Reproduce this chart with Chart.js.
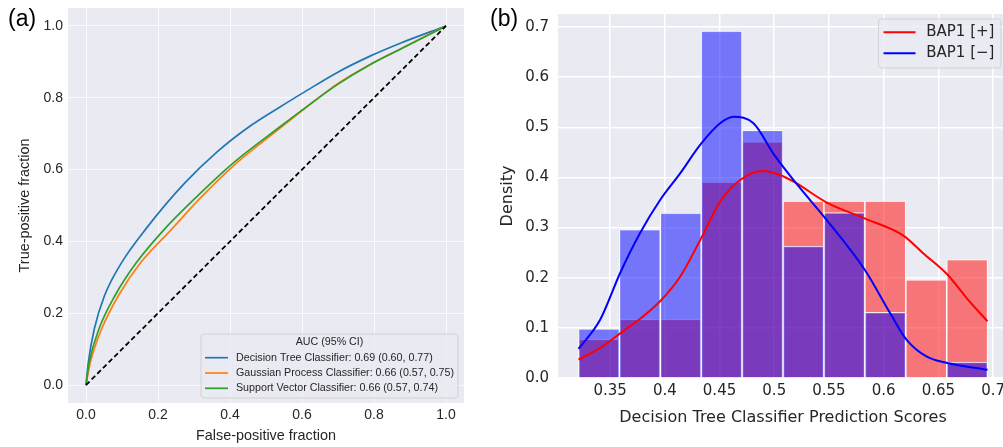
<!DOCTYPE html>
<html>
<head>
<meta charset="utf-8">
<script src="https://cdn.jsdelivr.net/npm/chart.js@4.4.0/dist/chart.umd.min.js"></script>
<style>
  html, body { margin: 0; padding: 0; background: #fff; overflow: hidden; width: 1003px; height: 447px; }
  canvas { position: absolute; top: 0; }
  #rocChart { left: 0; width: 470px; height: 447px; }
  #histChart { left: 490px; width: 520px; height: 447px; }
  .tag { position: absolute; top: 7px; font: 23px "Liberation Sans", Arial, sans-serif; line-height: 23px; color: #000; }
</style>
</head>
<body>
<canvas id="rocChart" width="470" height="447"></canvas>
<canvas id="histChart" width="520" height="447"></canvas>
<div class="tag" style="left:8px">(a)</div>
<div class="tag" style="left:490px">(b)</div>
<script>
// (a) ROC curves
const fprTree  = [0, 0.0065, 0.023, 0.051, 0.099, 0.168, 0.272, 0.365, 0.457, 0.540, 0.605, 0.697, 0.789, 0.873, 1.0];
const tprTree  = [0, 0.063, 0.156, 0.248, 0.341, 0.437, 0.560, 0.650, 0.722, 0.775, 0.815, 0.870, 0.916, 0.952, 1.0];
const fprGauss = [0, 0.012, 0.0434, 0.0895, 0.152, 0.237, 0.3186, 0.411, 0.540, 0.605, 0.697, 0.789, 0.873, 1.0];
const tprGauss = [0, 0.063, 0.156, 0.248, 0.341, 0.433, 0.522, 0.612, 0.716, 0.768, 0.838, 0.893, 0.936, 1.0];
const fprSvc   = [0, 0.009, 0.036, 0.080, 0.140, 0.217, 0.3186, 0.411, 0.540, 0.605, 0.697, 0.789, 0.873, 1.0];
const tprSvc   = [0, 0.063, 0.156, 0.248, 0.341, 0.433, 0.535, 0.620, 0.720, 0.769, 0.836, 0.892, 0.935, 1.0];
const chanceX  = [0, 1];
const chanceY  = [0, 1];
const rocLabels = [
    "Decision Tree Classifier: 0.69 (0.60, 0.77)",
    "Gaussian Process Classifier: 0.66 (0.57, 0.75)",
    "Support Vector Classifier: 0.66 (0.57, 0.74)"
];
const rocTicks = [0, 0.2, 0.4, 0.6, 0.8, 1.0];
const rocTickLabels = ["0.0", "0.2", "0.4", "0.6", "0.8", "1.0"];

// (b) histogram + KDE
const binCenters = [0.3398, 0.3772, 0.4146, 0.4519, 0.4893, 0.5267, 0.5641, 0.6015, 0.6389, 0.6763];
const densityPos = [0.077, 0.117, 0.117, 0.391, 0.471, 0.353, 0.353, 0.353, 0.196, 0.236];
const densityNeg = [0.098, 0.296, 0.329, 0.692, 0.494, 0.263, 0.330, 0.131, 0, 0.032];
const kdePosX = [0.3211, 0.3409, 0.3598, 0.3774, 0.3957, 0.414, 0.4323, 0.4506, 0.4688, 0.490, 0.5054, 0.519, 0.548, 0.583, 0.618, 0.636, 0.658, 0.676, 0.6949];
const kdePosY = [0.0365, 0.060, 0.090, 0.118, 0.153, 0.202, 0.275, 0.352, 0.395, 0.413, 0.405, 0.390, 0.350, 0.318, 0.284, 0.249, 0.207, 0.159, 0.113];
const kdeNegX = [0.3211, 0.3409, 0.3591, 0.3774, 0.3957, 0.414, 0.4323, 0.4506, 0.4627, 0.481, 0.5, 0.519, 0.548, 0.583, 0.606, 0.621, 0.639, 0.658, 0.6949];
const kdeNegY = [0.058, 0.116, 0.209, 0.289, 0.355, 0.408, 0.465, 0.508, 0.521, 0.508, 0.445, 0.391, 0.315, 0.215, 0.129, 0.076, 0.043, 0.030, 0.0165];
const groupLabels = ["BAP1 [+]", "BAP1 [\u2212]"];
const scoreTicks = [0.35, 0.4, 0.45, 0.5, 0.55, 0.6, 0.65, 0.7];
const scoreTickLabels = ["0.35", "0.4", "0.45", "0.5", "0.55", "0.6", "0.65", "0.7"];
const densityTicks = [0, 0.1, 0.2, 0.3, 0.4, 0.5, 0.6, 0.7];
const densityTickLabels = ["0.0", "0.1", "0.2", "0.3", "0.4", "0.5", "0.6", "0.7"];

const pts = (xs, ys) => xs.map((x, i) => ({ x: x, y: ys[i] }));
const TXT = "#262626";
const ARIAL = "'Liberation Sans', Arial, sans-serif";
const DEJAVU = "'DejaVu Sans', sans-serif";

const plotBg = {
    id: "plotBg",
    beforeDraw(chart) {
        const { ctx, chartArea: a } = chart;
        ctx.save();
        ctx.fillStyle = "#EAEAF2";
        ctx.fillRect(a.left, a.top, a.right - a.left, a.bottom - a.top);
        ctx.restore();
    }
};

// framed legend drawn inside the plot, like matplotlib's
function boxLegend(cfg) {
    return {
        id: "boxLegend",
        afterDraw(chart) {
            const { ctx, chartArea: a } = chart;
            const items = chart.data.datasets.filter(d => d.inLegend);
            ctx.save();
            ctx.font = cfg.font;
            const textW = Math.max(...items.map(d => ctx.measureText(d.label).width));
            const w = cfg.padL + cfg.lineLen + cfg.gap + textW + cfg.padR;
            const h = cfg.height;
            const x = a.right - cfg.marginR - w;
            const y = cfg.top != null ? a.top + cfg.top : a.bottom - cfg.bottom - h;
            ctx.beginPath();
            ctx.roundRect(x, y, w, h, 3);
            ctx.fillStyle = "rgba(234,234,242,0.8)";
            ctx.fill();
            ctx.strokeStyle = "rgba(204,204,204,0.8)";
            ctx.lineWidth = 1;
            ctx.stroke();
            ctx.fillStyle = TXT;
            ctx.textBaseline = "middle";
            if (cfg.title) {
                ctx.textAlign = "center";
                ctx.fillText(cfg.title, x + w / 2, y + cfg.titleY);
            }
            ctx.textAlign = "left";
            items.forEach((d, i) => {
                const ry = y + cfg.firstRow + i * cfg.rowStep;
                ctx.beginPath();
                ctx.moveTo(x + cfg.padL, ry);
                ctx.lineTo(x + cfg.padL + cfg.lineLen, ry);
                ctx.strokeStyle = d.borderColor;
                ctx.lineWidth = d.borderWidth;
                ctx.stroke();
                ctx.fillStyle = TXT;
                ctx.fillText(d.label, x + cfg.padL + cfg.lineLen + cfg.gap, ry);
            });
            ctx.restore();
        }
    };
}

function setTicks(values) {
    return scale => { scale.ticks = values.map(v => ({ value: v })); };
}
// fixed axis box sizes, no extra room for overhanging labels
function fixX(h) {
    return s => { s.height = h; s.paddingLeft = 0; s.paddingRight = 0; };
}
function fixY(w) {
    return s => { s.width = w; s.paddingTop = 0; s.paddingBottom = 0; };
}

// ---------- (a) ----------
new Chart(document.getElementById("rocChart"), {
    type: "line",
    data: {
        datasets: [
            { label: rocLabels[0], data: pts(fprTree, tprTree), borderColor: "#1f77b4", borderWidth: 1.7, order: 4, inLegend: true },
            { label: rocLabels[1], data: pts(fprGauss, tprGauss), borderColor: "#ff7f0e", borderWidth: 1.7, order: 3, inLegend: true },
            { label: rocLabels[2], data: pts(fprSvc, tprSvc), borderColor: "#2ca02c", borderWidth: 1.7, order: 2, inLegend: true },
            { label: "chance", data: pts(chanceX, chanceY), borderColor: "#000", borderWidth: 1.8, borderDash: [5, 3], order: 1 }
        ]
    },
    options: {
        responsive: false,
        animation: false,
        layout: { padding: { left: 0, top: 8, right: 6, bottom: 0 } },
        elements: { point: { radius: 0 }, line: { cubicInterpolationMode: "monotone", fill: false } },
        plugins: { legend: { display: false }, tooltip: { enabled: false } },
        scales: {
            x: {
                type: "linear", min: -0.05, max: 1.05,
                afterBuildTicks: setTicks(rocTicks),
                afterFit: fixX(44),
                grid: { color: "rgba(255,255,255,0.75)", lineWidth: 1, drawTicks: false },
                border: { display: false },
                ticks: { padding: 3.6, color: TXT, font: { family: ARIAL, size: 14 }, maxRotation: 0, autoSkip: false,
                         callback: (v, i) => rocTickLabels[i] },
                title: { display: true, text: "False-positive fraction", color: TXT,
                         font: { family: ARIAL, size: 14.4 }, padding: { top: 0, bottom: 2.4 } }
            },
            y: {
                type: "linear", min: -0.05, max: 1.05,
                afterBuildTicks: setTicks(rocTicks),
                afterFit: fixY(68),
                grid: { color: "rgba(255,255,255,0.75)", lineWidth: 1, drawTicks: false },
                border: { display: false },
                ticks: { padding: 5, color: TXT, font: { family: ARIAL, size: 14 }, autoSkip: false,
                         callback: (v, i) => rocTickLabels[i] },
                title: { display: true, text: "True-positive fraction", color: TXT,
                         font: { family: ARIAL, size: 14.4 }, padding: { top: 16.4, bottom: 0 } }
            }
        }
    },
    plugins: [plotBg, boxLegend({
        font: "10.7px " + ARIAL, title: "AUC (95% CI)", titleY: 8.3,
        height: 64, marginR: 6, bottom: 5,
        padL: 4, lineLen: 23, gap: 8, padR: 4, firstRow: 23.7, rowStep: 15.3
    })]
});

// ---------- (b) ----------
new Chart(document.getElementById("histChart"), {
    type: "bar",
    data: {
        datasets: [
            { type: "bar", label: groupLabels[0], data: pts(binCenters, densityPos), backgroundColor: "rgba(255,0,0,0.5)",
              borderColor: "rgba(255,255,255,0.85)", borderWidth: 1, grouped: false, barPercentage: 1, categoryPercentage: 1, order: 4 },
            { type: "bar", label: groupLabels[1], data: pts(binCenters, densityNeg), backgroundColor: "rgba(0,0,255,0.5)",
              borderColor: "rgba(255,255,255,0.85)", borderWidth: 1, grouped: false, barPercentage: 1, categoryPercentage: 1, order: 3 },
            { type: "line", label: groupLabels[0], data: pts(kdePosX, kdePosY), borderColor: "#ff0000", borderWidth: 2,
              pointRadius: 0, fill: false, cubicInterpolationMode: "monotone", order: 2, inLegend: true },
            { type: "line", label: groupLabels[1], data: pts(kdeNegX, kdeNegY), borderColor: "#0000ff", borderWidth: 2,
              pointRadius: 0, fill: false, cubicInterpolationMode: "monotone", order: 1, inLegend: true }
        ]
    },
    options: {
        responsive: false,
        animation: false,
        layout: { padding: { left: 0, top: 14, right: 2, bottom: 0 } },
        plugins: { legend: { display: false }, tooltip: { enabled: false } },
        scales: {
            x: {
                type: "linear", min: 0.3024, max: 0.7136, offset: false,
                afterBuildTicks: setTicks(scoreTicks),
                afterFit: fixX(69),
                grid: { color: "#ffffff", lineWidth: 1.5, drawTicks: false, offset: false },
                border: { display: false },
                ticks: { padding: 4.4, color: TXT, font: { family: DEJAVU, size: 15 }, maxRotation: 0, autoSkip: false,
                         callback: (v, i) => scoreTickLabels[i] },
                title: { display: true, text: "Decision Tree Classifier Prediction Scores", color: TXT,
                         font: { family: DEJAVU, size: 16 }, padding: { top: 0, bottom: 19.4 } }
            },
            y: {
                type: "linear", min: 0, max: 0.726,
                afterBuildTicks: setTicks(densityTicks),
                afterFit: fixY(68),
                grid: { color: "#ffffff", lineWidth: 1.5, drawTicks: false },
                border: { display: false },
                ticks: { padding: 9, color: TXT, font: { family: DEJAVU, size: 15 }, autoSkip: false,
                         callback: (v, i) => densityTickLabels[i] },
                title: { display: true, text: "Density", color: TXT,
                         font: { family: DEJAVU, size: 16 }, padding: { top: 8.4, bottom: 0 } }
            }
        }
    },
    plugins: [plotBg, boxLegend({
        font: "15px " + DEJAVU, title: null,
        height: 49, marginR: 7, top: 5,
        padL: 5, lineLen: 32, gap: 10.7, padR: 6.6, firstRow: 13.3, rowStep: 21
    })]
});
</script>
</body>
</html>
